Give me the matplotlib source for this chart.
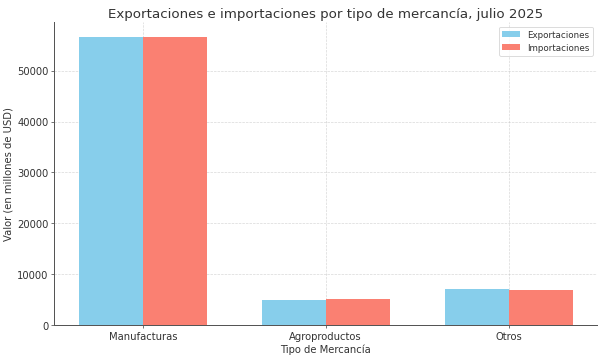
import numpy as np
import matplotlib.pyplot as plt

categorias = ["Manufacturas", "Agroproductos", "Otros"]
exportaciones = [56700, 4950, 7000]
importaciones = [56700, 5200, 6900]

gris = "#333333"
plt.rcParams["text.color"] = gris
plt.rcParams["axes.labelcolor"] = gris
plt.rcParams["xtick.color"] = gris
plt.rcParams["ytick.color"] = gris

x = np.arange(len(categorias))
ancho = 0.35

fig, ax = plt.subplots(figsize=(10, 5.96), dpi=60.2)
ax.bar(x - ancho / 2, exportaciones, ancho, label="Exportaciones", color="skyblue")
ax.bar(x + ancho / 2, importaciones, ancho, label="Importaciones", color="salmon")

ax.set_title("Exportaciones e importaciones por tipo de mercancía, julio 2025", fontsize=16)
ax.set_xlabel("Tipo de Mercancía", fontsize=12)
ax.set_ylabel("Valor (en millones de USD)", fontsize=12)
ax.set_xticks(x)
ax.set_xticklabels(categorias, fontsize=12)
ax.tick_params(axis="y", labelsize=12)
ax.grid(True, linestyle="--", alpha=0.5)
ax.set_axisbelow(True)
ax.spines["top"].set_visible(False)
ax.spines["right"].set_visible(False)
for s in ["left", "bottom"]:
    ax.spines[s].set_color("#555555")
    ax.spines[s].set_linewidth(1.2)
ax.legend(fontsize=10.5)

plt.subplots_adjust(left=0.09, right=0.992, top=0.936, bottom=0.092)
plt.savefig("out.png")
